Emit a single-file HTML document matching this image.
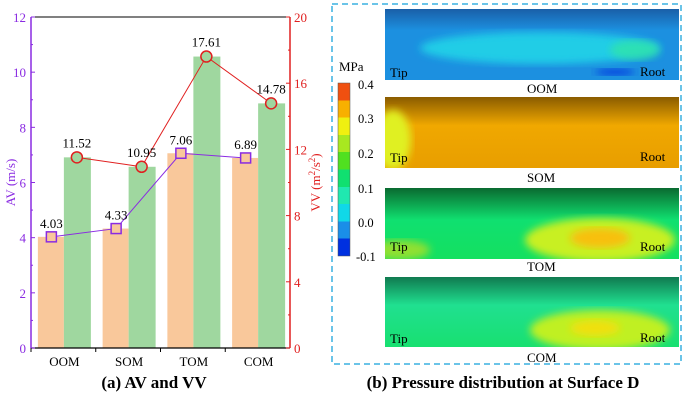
<!DOCTYPE html>
<html><head><meta charset="utf-8"><style>
body{margin:0;width:685px;height:400px;background:#fff;overflow:hidden;font-family:"Liberation Serif",serif;}
svg text{font-family:"Liberation Serif",serif;}
</style></head><body>
<svg width="685" height="400" viewBox="0 0 685 400" xmlns="http://www.w3.org/2000/svg" id="root">
<defs>
<linearGradient id="cb" x1="0" y1="1" x2="0" y2="0">
<stop offset="0" stop-color="#0030e0"/><stop offset="0.1" stop-color="#0030e0"/>
<stop offset="0.1" stop-color="#1a8ee8"/><stop offset="0.2" stop-color="#1a8ee8"/>
<stop offset="0.2" stop-color="#10d8e8"/><stop offset="0.3" stop-color="#10d8e8"/>
<stop offset="0.3" stop-color="#20e8b0"/><stop offset="0.4" stop-color="#20e8b0"/>
<stop offset="0.4" stop-color="#10e070"/><stop offset="0.5" stop-color="#10e070"/>
<stop offset="0.5" stop-color="#50e020"/><stop offset="0.6" stop-color="#50e020"/>
<stop offset="0.6" stop-color="#a8e820"/><stop offset="0.7" stop-color="#a8e820"/>
<stop offset="0.7" stop-color="#f0f010"/><stop offset="0.8" stop-color="#f0f010"/>
<stop offset="0.8" stop-color="#f8b000"/><stop offset="0.9" stop-color="#f8b000"/>
<stop offset="0.9" stop-color="#f05010"/><stop offset="1" stop-color="#f05010"/>
</linearGradient>
<linearGradient id="oom" x1="0" y1="0" x2="0" y2="1"><stop offset="0" stop-color="#1a5fa8"/><stop offset="0.3" stop-color="#1c90e0"/><stop offset="1" stop-color="#1c90e0"/></linearGradient>
<linearGradient id="som" x1="0" y1="0" x2="0" y2="1"><stop offset="0" stop-color="#8a5c00"/><stop offset="0.4" stop-color="#f0a800"/><stop offset="1" stop-color="#e89e00"/></linearGradient>
<linearGradient id="tom" x1="0" y1="0" x2="0" y2="1"><stop offset="0" stop-color="#0a6a30"/><stop offset="0.45" stop-color="#10e070"/><stop offset="1" stop-color="#14e060"/></linearGradient>
<linearGradient id="com" x1="0" y1="0" x2="0" y2="1"><stop offset="0" stop-color="#107a50"/><stop offset="0.4" stop-color="#20e090"/><stop offset="1" stop-color="#18e070"/></linearGradient>
<filter id="bl"><feGaussianBlur stdDeviation="4"/></filter>
<clipPath id="c1"><rect x="385" y="9" width="294" height="71"/></clipPath>
<clipPath id="c2"><rect x="385" y="97" width="294" height="71"/></clipPath>
<clipPath id="c3"><rect x="385" y="188" width="294" height="71"/></clipPath>
<clipPath id="c4"><rect x="385" y="277" width="294" height="70"/></clipPath>
</defs>
<g id="chart"></g>
<g id="right">
<rect x="332" y="4" width="349" height="360" fill="none" stroke="#3ab0e0" stroke-width="1.5" stroke-dasharray="6,4"/>
<text x="339" y="71" font-size="13">MPa</text>
<rect x="338" y="83" width="12" height="173" fill="url(#cb)" stroke="#555" stroke-width="0.5"/>
<g font-size="12.5">
<text x="358" y="89">0.4</text><text x="358" y="123">0.3</text><text x="358" y="158">0.2</text><text x="358" y="193">0.1</text><text x="358" y="227">0.0</text><text x="356" y="261">-0.1</text>
</g>
<g>
<g clip-path="url(#c1)">
<rect x="385" y="9" width="294" height="71" fill="url(#oom)"/>
<ellipse cx="540" cy="48" rx="120" ry="16" fill="#20d8e8" filter="url(#bl)" opacity="0.85"/>
<ellipse cx="635" cy="50" rx="25" ry="10" fill="#30e8a0" filter="url(#bl)" opacity="0.7"/>
<ellipse cx="615" cy="72" rx="20" ry="3" fill="#0030e0" filter="url(#bl)"/>
</g>
<text x="390" y="77" font-size="13">Tip</text><text x="640" y="76" font-size="13">Root</text>
<text x="527" y="93" font-size="13">OOM</text>
</g>
<g>
<g clip-path="url(#c2)">
<rect x="385" y="97" width="294" height="71" fill="url(#som)"/>
<ellipse cx="393" cy="140" rx="18" ry="30" fill="#e0f020" filter="url(#bl)"/>
</g>
<text x="390" y="162" font-size="13">Tip</text><text x="640" y="161" font-size="13">Root</text>
<text x="527" y="182" font-size="13">SOM</text>
</g>
<g>
<g clip-path="url(#c3)">
<rect x="385" y="188" width="294" height="71" fill="url(#tom)"/>
<ellipse cx="600" cy="240" rx="75" ry="22" fill="#c8f020" filter="url(#bl)"/>
<ellipse cx="600" cy="238" rx="30" ry="10" fill="#f8c010" filter="url(#bl)"/>
<ellipse cx="400" cy="250" rx="30" ry="10" fill="#90e030" filter="url(#bl)"/>
</g>
<text x="390" y="251" font-size="13">Tip</text><text x="640" y="251" font-size="13">Root</text>
<text x="527" y="271" font-size="13">TOM</text>
</g>
<g>
<g clip-path="url(#c4)">
<rect x="385" y="277" width="294" height="70" fill="url(#com)"/>
<ellipse cx="600" cy="330" rx="70" ry="20" fill="#c0f020" filter="url(#bl)"/>
<ellipse cx="595" cy="328" rx="25" ry="8" fill="#f0e010" filter="url(#bl)"/>
</g>
<text x="390" y="343" font-size="13">Tip</text><text x="640" y="342" font-size="13">Root</text>
<text x="527" y="362" font-size="13">COM</text>
</g>
<text x="503" y="388" font-size="17" font-weight="bold" text-anchor="middle">(b) Pressure distribution at Surface D</text>
</g>
</svg>
<script>
const categories=["OOM","SOM","TOM","COM"];
const avValues=[4.03,4.33,7.06,6.89];
const vvValues=[11.52,10.95,17.61,14.78];
const avTicks=[0,2,4,6,8,10,12];
const vvTicks=[0,4,8,12,16,20];
const NS="http://www.w3.org/2000/svg";
const g=document.getElementById('chart');
const L=31,R=290,T=17,B=348;
const yAV=v=>B-(v/12)*(B-T);
const yVV=v=>B-(v/20)*(B-T);
const band=(R-L)/categories.length;
const xc=i=>L+band*(i+0.5);
function el(tag,attrs,parent){const e=document.createElementNS(NS,tag);for(const k in attrs)e.setAttribute(k,attrs[k]);(parent||g).appendChild(e);return e;}
categories.forEach((c,i)=>{
 const a=el('rect',{x:xc(i)-25.5,y:yAV(avValues[i]),width:26,height:B-yAV(avValues[i]),fill:'#f9c89b'});
 
 
 const v=el('rect',{x:xc(i)+0.5,y:yVV(vvValues[i]),width:27,height:B-yVV(vvValues[i]),fill:'#9fd79f'});
 
 
});
el('line',{x1:L,y1:T,x2:R,y2:T,stroke:'#000','stroke-width':1});
el('line',{x1:L,y1:B,x2:R,y2:B,stroke:'#000','stroke-width':1.2});
el('line',{x1:L,y1:T,x2:L,y2:B,stroke:'#8a2be2','stroke-width':1.5});
el('line',{x1:R,y1:T,x2:R,y2:B,stroke:'#e02020','stroke-width':1.5});
avTicks.forEach(t=>{
 el('line',{x1:L,y1:yAV(t),x2:L+4,y2:yAV(t),stroke:'#8a2be2'});
 if(t<12)el('line',{x1:L,y1:yAV(t+1),x2:L+2,y2:yAV(t+1),stroke:'#8a2be2'});
 const tx=el('text',{x:L-5,y:yAV(t)+5,'font-size':13,'text-anchor':'end',fill:'#8a2be2'});tx.textContent=t;
 
 
});
vvTicks.forEach(t=>{
 el('line',{x1:R,y1:yVV(t),x2:R-4,y2:yVV(t),stroke:'#e02020'});
 if(t<20)el('line',{x1:R,y1:yVV(t+2),x2:R-2,y2:yVV(t+2),stroke:'#e02020'});
 const tx=el('text',{x:R+4,y:yVV(t)+5,'font-size':13,fill:'#e02020'});tx.textContent=t;
 
 
});
categories.forEach((c,i)=>{
 el('line',{x1:L+band*i,y1:B,x2:L+band*i,y2:B+4,stroke:'#000'});
 const tx=el('text',{x:xc(i)+1,y:B+18,'font-size':13,'text-anchor':'middle'});tx.textContent=c;
 
 
});
const yl=el('text',{transform:'translate(15,'+((T+B)/2)+') rotate(-90)','font-size':13,'text-anchor':'middle',fill:'#8a2be2'});yl.textContent='AV (m/s)';


const yr=el('text',{transform:'translate(320,'+((T+B)/2)+') rotate(-90)','font-size':13,'text-anchor':'middle',fill:'#e02020'});
yr.innerHTML='VV (m<tspan dy="-5" font-size="9">2</tspan><tspan dy="5">/s</tspan><tspan dy="-5" font-size="9">2</tspan><tspan dy="5">)</tspan>';


el('polyline',{points:categories.map((c,i)=>(xc(i)-12)+','+yAV(avValues[i])).join(' '),fill:'none',stroke:'#8a2be2','stroke-width':1});
el('polyline',{points:categories.map((c,i)=>(xc(i)+13.5)+','+yVV(vvValues[i])).join(' '),fill:'none',stroke:'#e02020','stroke-width':1});
categories.forEach((c,i)=>{
 const s=el('rect',{x:xc(i)-17,y:yAV(avValues[i])-5,width:10,height:10,fill:'#f9c89b',stroke:'#8a2be2','stroke-width':1.5});
 
 
 const ci=el('circle',{cx:xc(i)+13.5,cy:yVV(vvValues[i]),r:5.5,fill:'#9fd79f',stroke:'#e02020','stroke-width':1.5});
 
 
 const ta=el('text',{x:xc(i)-12,y:yAV(avValues[i])-9,'font-size':13,'text-anchor':'middle'});ta.textContent=avValues[i].toFixed(2);
 
 
 const tv=el('text',{x:xc(i)+13.5,y:yVV(vvValues[i])-10,'font-size':13,'text-anchor':'middle'});tv.textContent=vvValues[i].toFixed(2);
 
 
});
const tt=el('text',{x:154,y:388,'font-size':17,'font-weight':'bold','text-anchor':'middle'});tt.textContent='(a) AV and VV';


</script>
</body></html>
